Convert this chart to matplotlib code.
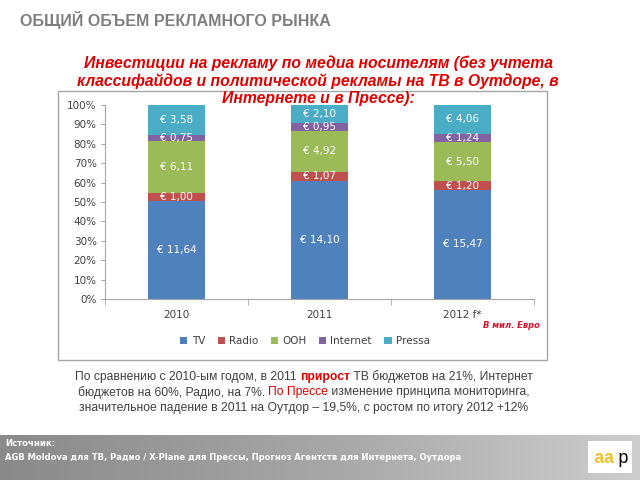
import matplotlib
matplotlib.use("Agg")
import matplotlib.pyplot as plt
import numpy as np
from matplotlib.patches import Rectangle, Patch
import matplotlib.font_manager as fm
from matplotlib.colors import LinearSegmentedColormap

categories = ["2010", "2011", "2012 f*"]
series_names = ["TV", "Radio", "OOH", "Internet", "Pressa"]
tv = [11.64, 14.10, 15.47]
radio = [1.00, 1.07, 1.20]
ooh = [6.11, 4.92, 5.50]
internet = [0.75, 0.95, 1.24]
pressa = [3.58, 2.10, 4.06]
colors = ["#4f81bd", "#c0504d", "#9bbb59", "#8064a2", "#4bacc6"]
yticks = [0, 10, 20, 30, 40, 50, 60, 70, 80, 90, 100]

data = np.array([tv, radio, ooh, internet, pressa])
totals = data.sum(axis=0)
shares = data / totals * 100

fig = plt.figure(figsize=(6.4, 4.8), dpi=100)
fig.patch.set_facecolor("white")

# chart frame
fig.patches.append(Rectangle((58/640, 1-360/480), (547-58)/640, (360-91)/480,
                             transform=fig.transFigure, facecolor="white",
                             edgecolor="#a6a6a6", linewidth=1.0, zorder=-5))

ax = fig.add_axes([105/640, 1-299/480, (534-105)/640, (299-105)/480])
ax.set_facecolor("none")
x = np.arange(len(categories))
bottom = np.zeros(len(categories))
for i, name in enumerate(series_names):
    ax.bar(x, shares[i], 0.4, bottom=bottom, color=colors[i], label=name, zorder=2)
    for j in range(len(categories)):
        lbl = "€ " + f"{data[i][j]:.2f}".replace(".", ",")
        ax.text(x[j], bottom[j] + shares[i][j]/2, lbl, ha="center", va="center",
                color="white", fontsize=7.5, zorder=3)
    bottom += shares[i]

ax.set_xlim(-0.5, len(categories) - 0.5)
ax.set_ylim(0, 100)
ax.set_yticks(yticks)
ax.set_yticklabels([f"{t}%" for t in yticks], fontsize=7.5, color="#404040")
ax.set_xticks(x)
ax.set_xticklabels(categories, fontsize=7.5, color="#404040")
ax.set_xticks(np.arange(-0.5, len(categories), 1), minor=True)
ax.tick_params(axis="x", which="major", length=0, pad=8)
ax.tick_params(axis="x", which="minor", length=4, color="#a6a6a6")
ax.tick_params(axis="y", length=3, color="#a6a6a6", pad=3)
for s in ["top", "right"]:
    ax.spines[s].set_visible(False)
ax.spines["left"].set_color("#a6a6a6")
ax.spines["bottom"].set_color("#a6a6a6")

handles = [Patch(facecolor=c, label=n) for c, n in zip(colors, series_names)]
fig.legend(handles=handles, loc="center", bbox_to_anchor=(305/640, 1-341/480),
           ncol=5, frameon=False, fontsize=7.5, handlelength=0.7, handleheight=0.7,
           handletextpad=0.4, columnspacing=1.2, labelcolor="#404040")

fig.text(540/640, 1-325/480, "В мил. Евро", color="#e0102a", fontsize=6,
         style="italic", weight="bold", ha="right", va="center")

# title
fig.text(20/640, 1-20/480, "ОБЩИЙ ОБЪЕМ РЕКЛАМНОГО РЫНКА", color="#7f7f7f",
         fontsize=11.5, weight="bold", ha="left", va="center",
         family="Liberation Sans")

sub = ["Инвестиции на рекламу по медиа носителям (без учтета",
       "классифайдов и политической рекламы на ТВ в Оутдоре, в",
       "Интернете и в Прессе):"]
for k, line in enumerate(sub):
    fig.text(318/640, 1-(63+18*k)/480, line, color="#e00000", fontsize=11.3,
             style="italic", weight="bold", ha="center", va="center",
             family="Liberation Sans", zorder=5)

# bottom commentary with colored words
fig.canvas.draw()
renderer = fig.canvas.get_renderer()
gray = "#404040"
red = "#e00000"
lines = [
    [("По сравнению с 2010-ым годом, в 2011 ", gray, "normal"), ("прирост", red, "bold"),
     (" ТВ бюджетов на 21%, Интернет", gray, "normal")],
    [("бюджетов на 60%, Радио, на 7%. ", gray, "normal"), ("По Прессе", red, "normal"),
     (" изменение принципа мониторинга,", gray, "normal")],
    [("значительное падение в 2011 на Оутдор – 19,5%, с ростом по итогу 2012 +12%", gray, "normal")],
]
fam = "Liberation Sans Narrow"
try:
    fm.findfont(fam, fallback_to_default=False)
except Exception:
    fam = "Liberation Sans"
for k, pieces in enumerate(lines):
    y = 1 - (377 + 15.5*k)/480
    widths = []
    objs = []
    for txt, col, w in pieces:
        t = fig.text(0, y, txt, color=col, weight=w, fontsize=8.7, family=fam,
                     ha="left", va="center")
        bb = t.get_window_extent(renderer)
        widths.append(bb.width)
        objs.append(t)
    total = sum(widths)
    start = 304 - total/2
    for t, wdt in zip(objs, widths):
        t.set_x(start/640)
        start += wdt

# footer gradient band
fax = fig.add_axes([0, 0, 1, 45/480])
grad = np.linspace(0, 1, 256).reshape(1, -1)
cmap = LinearSegmentedColormap.from_list("g", ["#8a8a8a", "#a6a6a6", "#cdcdcd"])
fax.imshow(grad, aspect="auto", cmap=cmap, extent=[0, 1, 0, 1])
fax.set_axis_off()
fax.text(5/640, 1-(443-435)/45, "Источник:", color="white", fontsize=6.1,
         weight="bold", ha="left", va="center", transform=fax.transAxes)
fax.text(5/640, 1-(458-435)/45,
         "AGB Moldova для ТВ, Радио / X-Plane для Прессы, Прогноз Агентств для Интернета, Оутдора",
         color="white", fontsize=6.05, weight="bold", ha="left", va="center",
         transform=fax.transAxes)

# logo
lax = fig.add_axes([588/640, 1-473/480, 44/640, 32/480])
lax.set_xlim(0, 1); lax.set_ylim(0, 1)
lax.add_patch(Rectangle((0, 0), 1, 1, facecolor="white", edgecolor="none"))
lax.text(0.36, 0.45, "aa", color="#f2c12e", fontsize=13, family="Liberation Mono",
         weight="bold", ha="center", va="center")
lax.text(0.8, 0.45, "p", color="black", fontsize=13, family="Liberation Mono",
         ha="center", va="center")
lax.set_axis_off()

fig.savefig("out.png", dpi=100, facecolor="white")
